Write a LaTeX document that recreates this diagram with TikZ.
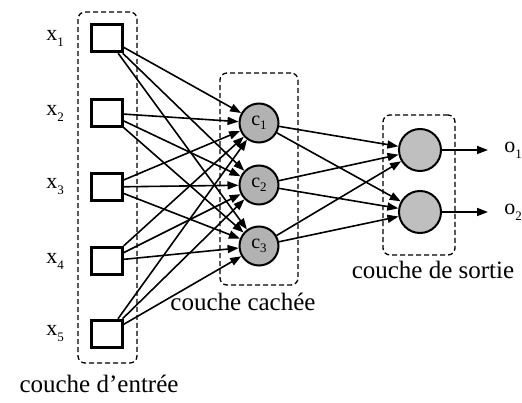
\documentclass[tikz,border=0pt]{standalone}
\usepackage{fontspec}
\setmainfont{Liberation Serif}
\usetikzlibrary{arrows.meta}
\begin{document}
\begin{tikzpicture}[x=1pt,y=-1pt,
  inbox/.style={draw,line width=3pt,minimum width=30.5pt,minimum height=27.5pt,inner sep=0pt},
  hid/.style={circle,draw,line width=2pt,fill=black!30,minimum size=39pt,inner sep=0pt,font=\fontsize{20}{20}\selectfont},
  outn/.style={circle,draw,line width=2pt,fill=black!25,minimum size=42pt,inner sep=0pt},
  layer/.style={draw,line width=1.3pt,rounded corners=7pt,dash pattern=on 5pt off 3pt,inner sep=0pt},
  conn/.style={line width=1.6pt,-{Triangle[length=11pt,width=8pt]}},
  lab/.style={font=\fontsize{22}{22}\selectfont,inner sep=0pt},
  caption/.style={font=\fontsize{25}{25}\selectfont,inner sep=0pt}
]
\useasboundingbox (0,0) rectangle (522,403);
% layer boxes
\node[layer,minimum width=59pt,minimum height=351pt] (L1) at (107.5,187.5) {};
\node[layer,minimum width=78pt,minimum height=212pt] (L2) at (259,179) {};
\node[layer,minimum width=72pt,minimum height=140pt] (L3) at (419,185) {};
% inputs
\foreach \i/\y in {1/38,2/113,3/187,4/261,5/334}{
  \node[inbox] (x\i) at (107,\y) {};
  \node[lab] (lx\i) at (55,\y) {x\raisebox{-6pt}{\fontsize{13}{13}\selectfont \i}};
}
% hidden
\node[hid] (c1) at (259,123) {c\raisebox{-4pt}{\fontsize{13}{13}\selectfont 1}};
\node[hid] (c2) at (259,185) {c\raisebox{-4pt}{\fontsize{13}{13}\selectfont 2}};
\node[hid] (c3) at (259,246) {c\raisebox{-4pt}{\fontsize{13}{13}\selectfont 3}};
% outputs
\node[outn] (o1) at (420,150) {};
\node[outn] (o2) at (420,212) {};
\coordinate (e1) at (488,150);
\coordinate (e2) at (488,212);
\node[lab] (lo1) at (513,150) {o\raisebox{-6pt}{\fontsize{13}{13}\selectfont 1}};
\node[lab] (lo2) at (513,212) {o\raisebox{-6pt}{\fontsize{13}{13}\selectfont 2}};
% connections
\foreach \i in {1,...,5}{
  \foreach \j in {1,2,3}{
    \draw[conn] (x\i) -- (c\j);
  }
}
\foreach \j in {1,2,3}{
  \foreach \k in {1,2}{
    \draw[conn] (c\j) -- (o\k);
  }
}
\draw[conn] (o1) -- (e1);
\draw[conn] (o2) -- (e2);
% captions
\node[caption] (t1) at (99,384) {couche d'entrée};
\node[caption] (t2) at (243,302) {couche cachée};
\node[caption] (t3) at (433,270) {couche de sortie};
\end{tikzpicture}
\end{document}
